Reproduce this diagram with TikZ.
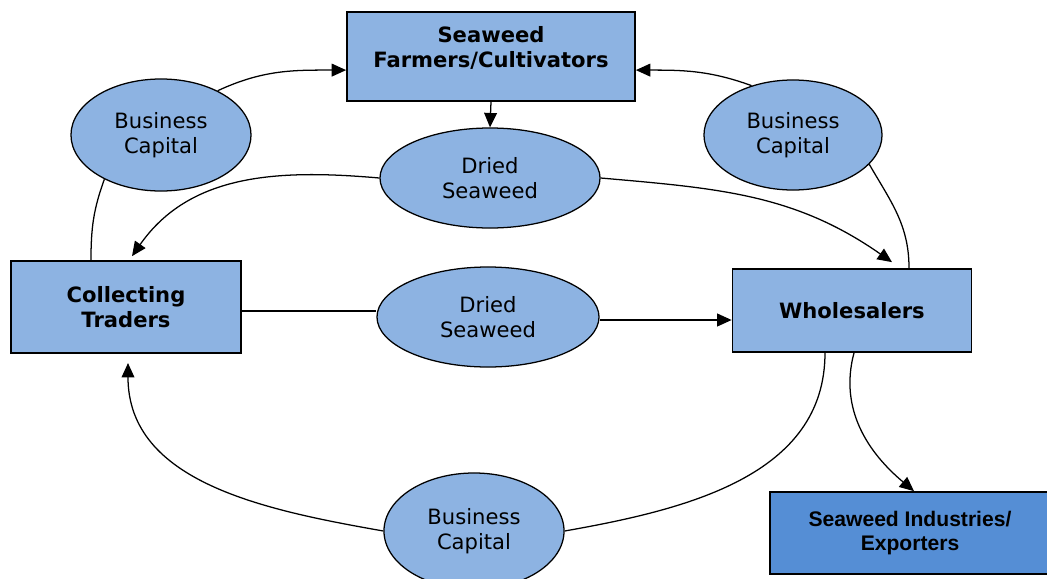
\documentclass[tikz,border=0pt]{standalone}
\usepackage{fontspec}
\setmainfont{DejaVu Sans}
\newfontfamily\arialfont{Liberation Sans}
\usetikzlibrary{shapes.geometric, arrows.meta, positioning}
\definecolor{boxblue}{RGB}{141,179,226}
\definecolor{exblue}{RGB}{85,142,213}

\begin{document}
\begin{tikzpicture}[
    x=0.025cm, y=-0.025cm,
    font=\fontsize{15}{17.7}\selectfont,
    actor/.style={draw, line width=1.2pt, fill=boxblue, align=center, inner sep=0pt,
                  font=\fontsize{15}{17.7}\selectfont\bfseries},
    flow/.style={draw, ellipse, line width=0.9pt, fill=boxblue, align=center, inner sep=0pt},
    arr/.style={-{Triangle[length=3.6mm, width=3.2mm]}, line width=0.9pt},
    lnk/.style={line width=0.9pt}
]
\useasboundingbox (0,0) rectangle (1047,579);

\node[actor, minimum width=7.2cm, minimum height=2.225cm]  (farmers) at (491,56.5)
    {\raisebox{4.6pt}[\height][\depth]{\begin{tabular}{@{}c@{}}Seaweed\\Farmers/Cultivators\end{tabular}}};
\node[actor, minimum width=5.75cm, minimum height=2.3cm]   (traders) at (126,307)  {Collecting\\Traders};
\node[actor, minimum width=5.975cm, minimum height=2.075cm] (whole)  at (852,310.5) {Wholesalers};
\node[actor, fill=exblue, font=\arialfont\fontsize{15}{17.7}\selectfont\bfseries,
      minimum width=7cm, minimum height=2.05cm]             (export)  at (910,533)  {Seaweed Industries/\\Exporters};

\node[flow, minimum width=4.5cm, minimum height=2.8cm]   (capL) at (161,135) {Business\\Capital};
\node[flow, minimum width=4.45cm, minimum height=2.75cm] (capR) at (793,135) {Business\\Capital};
\node[flow, minimum width=5.5cm, minimum height=2.5cm]   (dryT) at (490,178) {Dried\\Seaweed};
\node[flow, minimum width=5.55cm, minimum height=2.5cm]  (dryM) at (488,317) {Dried\\Seaweed};
\node[flow, minimum width=4.5cm, minimum height=2.9cm]   (capB) at (474,531) {Business\\Capital};

% capital back to the farmers
\draw[lnk] ([xshift=-8.75mm]traders.north) to[out=90, in=250] (capL.218);
\draw[arr] (capL.38) to[out=25, in=180] ([yshift=-3.4mm]farmers.west);
\draw[lnk] ([xshift=14.25mm]whole.north) to[out=90, in=-60] (capR.-21);
\draw[arr] (capR.130) to[out=160, in=0] ([yshift=-3.4mm]farmers.east);

% seaweed flows
\draw[arr] (farmers.south) -- (dryT.north);
\draw[arr] (dryT.west) to[out=175, in=55] ([xshift=1.5mm, yshift=1mm]traders.north);
\draw[arr] (dryT.east) to[out=-5, in=145] ([xshift=10mm, yshift=1.5mm]whole.north);
\draw[lnk] ([yshift=-1mm]traders.east) -- ([yshift=-1mm]traders.east -| dryM.west);
\draw[arr] ([yshift=-0.75mm]dryM.east) -- ([yshift=-0.75mm]dryM.east -| whole.west);
\draw[arr] ([xshift=0.5mm]whole.south) to[out=-105, in=140] ([xshift=1mm]export.north);

% capital back to the traders
\draw[lnk] ([xshift=-6.75mm]whole.south) to[out=-90, in=10] (capB.east);
\draw[arr] (capB.west) to[out=170, in=-90] ([xshift=0.5mm, yshift=-2.3mm]traders.south);

\end{tikzpicture}
\end{document}
